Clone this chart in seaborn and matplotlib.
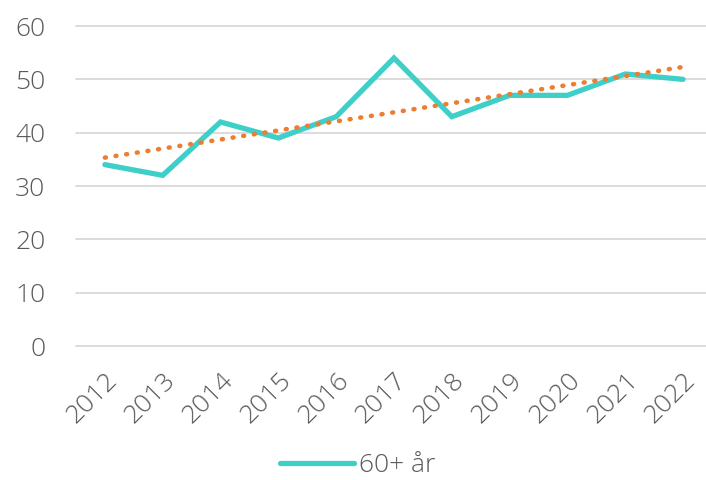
import numpy as np
import pandas as pd
import matplotlib
matplotlib.use("Agg")
import matplotlib.pyplot as plt
import seaborn as sns

# values
years = [2012, 2013, 2014, 2015, 2016, 2017, 2018, 2019, 2020, 2021, 2022]
values = [34, 32, 42, 39, 43, 54, 43, 47, 47, 51, 50]
series_name = "60+ år"
y_ticks = [0, 10, 20, 30, 40, 50, 60]

df = pd.DataFrame({"year": years, "value": values})

sns.set_style("white")
plt.rcParams["font.family"] = ["Open Sans", "DejaVu Sans"]
plt.rcParams["font.weight"] = "light"

text_color = "#595959"
teal = "#3ECFC9"
orange = "#ED7D31"

fig = plt.figure(figsize=(7.06, 4.8), dpi=100)
ax = fig.add_axes([76 / 706, 134 / 480, 636 / 706, 320 / 480])

# gridlines
for yv in y_ticks:
    ax.axhline(yv, color="#D9D9D9", lw=1.3, zorder=0, clip_on=False)

sns.lineplot(data=df, x="year", y="value", color=teal, lw=3.8, ax=ax,
             label=series_name, solid_joinstyle="miter", solid_capstyle="round")

# linear trendline
sns.regplot(data=df, x="year", y="value", scatter=False, ci=None, ax=ax,
            line_kws=dict(color=orange, lw=3.3, linestyle=(0, (0.2, 2.15)),
                          dash_capstyle="round"))

ax.set_xlim(2011.5, 2022.5)
ax.set_ylim(0, 60)
ax.set_xticks(years)
ax.set_xticklabels([str(y) for y in years], rotation=45, ha="right",
                   rotation_mode="anchor")
ax.set_yticks(y_ticks)
ax.tick_params(axis="y", length=0, pad=22, labelsize=19, labelcolor=text_color)
ax.tick_params(axis="x", length=0, pad=16, labelsize=19, labelcolor=text_color)
ax.set_xlabel("")
ax.set_ylabel("")
for s in ax.spines.values():
    s.set_visible(False)

leg = ax.legend(loc="center", bbox_to_anchor=(358 / 706, 1 - 466 / 480),
                bbox_transform=fig.transFigure, frameon=False, fontsize=19,
                handlelength=2.8, handletextpad=0.2)
for t in leg.get_texts():
    t.set_color(text_color)

fig.savefig("out.png", dpi=100)
